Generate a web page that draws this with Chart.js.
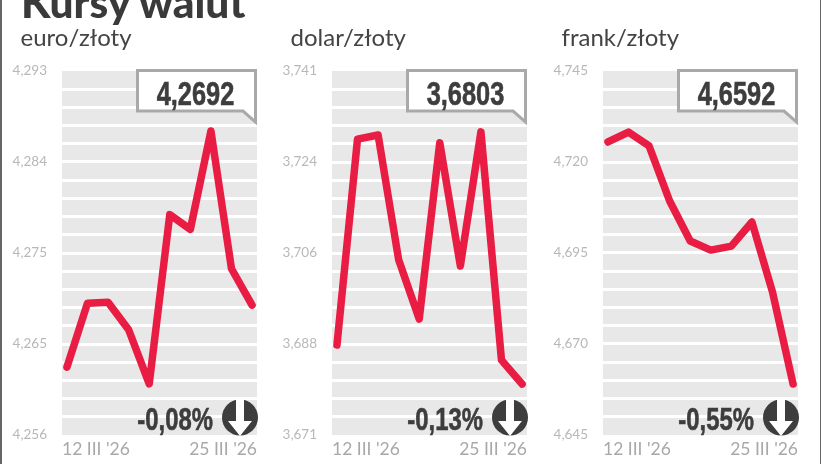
<!DOCTYPE html>
<html lang="pl"><head><meta charset="utf-8">
<script src="https://cdn.jsdelivr.net/npm/chart.js@4"></script>
<style>
html,body{margin:0;padding:0;background:#fff;width:821px;height:464px;overflow:hidden}
#frame{position:absolute;left:0;top:0;width:821px;height:464px;overflow:hidden}
#frame:before,#frame:after{content:"";position:absolute;top:0;height:464px;background:#666}
#frame:before{left:0;width:1.5px}
#frame:after{left:819.5px;width:1.5px}
canvas{position:absolute;top:60px}
.t{position:absolute;white-space:nowrap;line-height:1;z-index:3}
.title{font:900 42.5px Lato,sans-serif;color:#3a3a3a;left:21px;top:-24px}
.sub{font:400 24px Lato,sans-serif;color:#444;top:22px}
.val{font:700 33px "Liberation Sans",sans-serif;color:#3d3d3d;top:75px;text-align:center;width:121px;transform:scaleX(.77);-webkit-text-stroke:.6px #3d3d3d}
.pct{font:700 31px "Liberation Sans",sans-serif;color:#3d3d3d;top:402px;text-align:right;width:100px;transform:scaleX(.77);transform-origin:100% 50%;-webkit-text-stroke:.6px #3d3d3d}
svg{position:absolute;left:0;top:0;z-index:2}
</style></head><body><div id="frame">
<div class="t title">Kursy walut</div>
<svg id="deco" width="821" height="464"></svg>
</div>
<script>
const dates = ["12 III '26","13 III '26","16 III '26","17 III '26","18 III '26","19 III '26","20 III '26","23 III '26","24 III '26","25 III '26"];
const euroValues  = [4.2629,4.2694,4.2695,4.2667,4.2612,4.2784,4.2769,4.2869,4.2729,4.2692];
const dolarValues = [3.6883,3.7279,3.7287,3.7047,3.6933,3.7272,3.7035,3.7293,3.6854,3.6808];
const frankValues = [4.7255,4.7282,4.7244,4.7093,4.6983,4.6958,4.6969,4.7035,4.6843,4.6590];
const euroTicks  = ["4,293","4,284","4,275","4,265","4,256"];
const dolarTicks = ["3,741","3,724","3,706","3,688","3,671"];
const frankTicks = ["4,745","4,720","4,695","4,670","4,645"];
const euroRange  = [4.256,4.293];
const dolarRange = [3.671,3.741];
const frankRange = [4.645,4.745];
const panelNames = ["euro/złoty","dolar/złoty","frank/złoty"];
const lastRates  = ["4,2692","3,6803","4,6592"];
const changes    = ["-0,08%","-0,13%","-0,55%"];

const PLOT_W = 195, BANDS = 20, LBL_EVERY = 5;
const frame = document.getElementById('frame');
const deco = document.getElementById('deco');
const bandBg = {id:'bandBg',beforeDraw(c){const a=c.chartArea,x=c.ctx;x.save();x.fillStyle='#e8e8e8';x.fillRect(a.left,a.top,a.width,a.height);x.restore();}};

function panel(i,left,plotLeft,values,ticks,range){
  const cv=document.createElement('canvas');
  cv.style.left=left+'px';cv.width=270;cv.height=404;cv.style.width='270px';cv.style.height='404px';
  frame.appendChild(cv);
  const leftW=plotLeft-left;
  new Chart(cv,{type:'line',plugins:[bandBg],
    data:{datasets:[{data:values.map((v,k)=>({x:k,y:v})),borderColor:'#e91c43',borderWidth:7.5,
      tension:0,pointRadius:0,borderCapStyle:'round',borderJoinStyle:'round',fill:false}]},
    options:{responsive:false,maintainAspectRatio:false,animation:false,
      layout:{padding:{top:11,right:270-leftW-PLOT_W,left:0,bottom:0}},
      plugins:{legend:{display:false},tooltip:{enabled:false},title:{display:false}},
      scales:{
        x:{type:'linear',min:-0.24,max:dates.length-1+0.24,
          grid:{display:false,drawTicks:false},border:{display:false},
          afterBuildTicks(s){s.ticks=[{value:s.min},{value:s.max}];},
          afterFit(s){s.height=29;s.paddingLeft=0;s.paddingRight=0;},
          ticks:{autoSkip:false,maxRotation:0,align:'inner',padding:4,color:'#a8a8a8',
            font:{family:'Lato',size:17.5},
            callback(v,k){return k===0?dates[0]:dates[dates.length-1];}}},
        y:{type:'linear',min:range[0],max:range[1],
          border:{display:false},
          grid:{drawTicks:false,lineWidth:3,
            color(ctx){const k=ctx.index;return (k===0||k===BANDS)?'rgba(0,0,0,0)':'#ffffff';}},
          afterBuildTicks(s){const t=[];for(let k=0;k<=BANDS;k++)t.push({value:range[0]+(range[1]-range[0])*k/BANDS});s.ticks=t;},
          afterFit(s){s.width=leftW;s.paddingTop=0;s.paddingBottom=0;},
          ticks:{autoSkip:false,padding:15,color:'#b8b8b8',font:{family:'Lato',size:13.5},
            callback(v,k){return k%LBL_EVERY===0?ticks[(BANDS-k)/LBL_EVERY]:'';}}}
      }}});
  const sub=document.createElement('div');sub.className='t sub';sub.textContent=panelNames[i];sub.style.left=(plotLeft-41.5)+'px';frame.appendChild(sub);
  const r=plotLeft+PLOT_W, bx=r-121;
  deco.insertAdjacentHTML('beforeend',
    `<path d="M${bx+1.5} 70.5H${r-1.5}V122L${r-14} 111H${bx+1.5}Z" fill="#fff" stroke="#a9a9a9" stroke-width="3"/>`+
    `<circle cx="${r-17}" cy="417.5" r="18" fill="#3d3d3d"/>`+
    `<path d="M${r-21} 399H${r-13}V421H${r-5}L${r-17} 436L${r-29} 421H${r-21}Z" fill="#fff"/>`);
  const val=document.createElement('div');val.className='t val';val.textContent=lastRates[i];val.style.left=(bx-1)+'px';frame.appendChild(val);
  const pct=document.createElement('div');pct.className='t pct';pct.textContent=changes[i];pct.style.left=(r-144)+'px';frame.appendChild(pct);
}
panel(0,0,62,euroValues,euroTicks,euroRange);
panel(1,270,332,dolarValues,dolarTicks,dolarRange);
panel(2,541,603,frankValues,frankTicks,frankRange);
</script></body></html>
